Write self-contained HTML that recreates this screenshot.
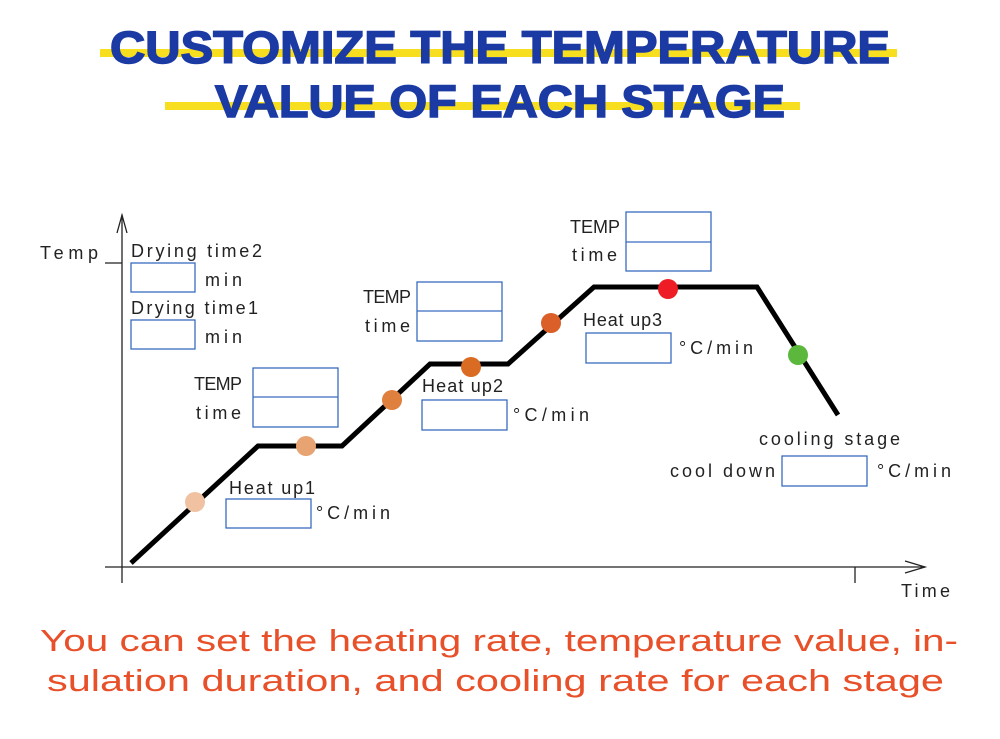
<!DOCTYPE html>
<html><head><meta charset="utf-8"><style>body{margin:0;background:#fff}svg{display:block}</style></head>
<body>
<svg width="1000" height="739" viewBox="0 0 1000 739" xmlns="http://www.w3.org/2000/svg" font-family="Liberation Sans, sans-serif">
<rect x="100" y="49" width="797" height="8" fill="#f7de1e"/>
<rect x="165" y="102" width="635" height="8" fill="#f7de1e"/>
<text x="110" y="63" font-size="45" font-weight="bold" fill="#1b3aa3" stroke="#1b3aa3" stroke-width="1.5" textLength="780" lengthAdjust="spacingAndGlyphs">CUSTOMIZE THE TEMPERATURE</text>
<text x="215" y="117" font-size="45" font-weight="bold" fill="#1b3aa3" stroke="#1b3aa3" stroke-width="1.5" textLength="570" lengthAdjust="spacingAndGlyphs">VALUE OF EACH STAGE</text>

<g stroke="#222" stroke-width="1.3" fill="none">
<line x1="122" y1="215" x2="122" y2="583"/>
<polyline points="117,233 122,215 127,233"/>
<line x1="105" y1="263" x2="122" y2="263"/>
<line x1="105" y1="567" x2="925" y2="567"/>
<polyline points="905,561 925,567 905,573"/>
<line x1="855" y1="567" x2="855" y2="583"/>
</g>
<polyline points="131,563 258,446 342,446 430,364 508,364 594,287 757,287 838,415" fill="none" stroke="#000" stroke-width="5" stroke-linejoin="miter"/>
<circle cx="195" cy="502" r="10" fill="#f0c2a2"/>
<circle cx="306" cy="446" r="10" fill="#e8a372"/>
<circle cx="392" cy="400" r="10" fill="#e0803e"/>
<circle cx="471" cy="367" r="10" fill="#d96b22"/>
<circle cx="551" cy="323" r="10" fill="#da5f28"/>
<circle cx="668" cy="289" r="10" fill="#ee1c24"/>
<circle cx="798" cy="355" r="10" fill="#5cb83c"/>

<g fill="none" stroke="#3a6cc0" stroke-width="1.3">
<rect x="131" y="263" width="64" height="29"/>
<rect x="131" y="320" width="64" height="29"/>
<rect x="253" y="368" width="85" height="59"/><line x1="253" y1="397" x2="338" y2="397"/>
<rect x="417" y="282" width="85" height="59"/><line x1="417" y1="311" x2="502" y2="311"/>
<rect x="626" y="212" width="85" height="59"/><line x1="626" y1="242" x2="711" y2="242"/>
<rect x="226" y="499" width="85" height="29"/>
<rect x="422" y="400" width="85" height="30"/>
<rect x="586" y="333" width="85" height="30"/>
<rect x="782" y="456" width="85" height="30"/>
</g>

<g font-size="18" fill="#222" lengthAdjust="spacingAndGlyphs">
<text x="40" y="259" textLength="58">Temp</text>
<text x="131" y="257" textLength="131">Drying time2</text>
<text x="205" y="286" textLength="37">min</text>
<text x="131" y="314" textLength="127">Drying time1</text>
<text x="205" y="343" textLength="37">min</text>
<text x="194" y="390" textLength="48">TEMP</text>
<text x="196" y="419" textLength="45">time</text>
<text x="229" y="494" textLength="86">Heat up1</text>
<text x="316" y="519" textLength="74">°C/min</text>
<text x="363" y="303" textLength="48">TEMP</text>
<text x="365" y="332" textLength="45">time</text>
<text x="422" y="392" textLength="81">Heat up2</text>
<text x="513" y="421" textLength="76">°C/min</text>
<text x="570" y="233" textLength="50">TEMP</text>
<text x="572" y="261" textLength="45">time</text>
<text x="583" y="326" textLength="79">Heat up3</text>
<text x="679" y="354" textLength="74">°C/min</text>
<text x="759" y="445" textLength="141">cooling stage</text>
<text x="670" y="477" textLength="105">cool down</text>
<text x="877" y="477" textLength="74">°C/min</text>
<text x="901" y="597" textLength="49">Time</text>
</g>

<text x="40" y="651" font-size="31" fill="#e8502a" textLength="918" lengthAdjust="spacingAndGlyphs">You can set the heating rate, temperature value, in-</text>
<text x="47" y="691" font-size="31" fill="#e8502a" textLength="897" lengthAdjust="spacingAndGlyphs">sulation duration, and cooling rate for each stage</text>
</svg>
</body></html>
